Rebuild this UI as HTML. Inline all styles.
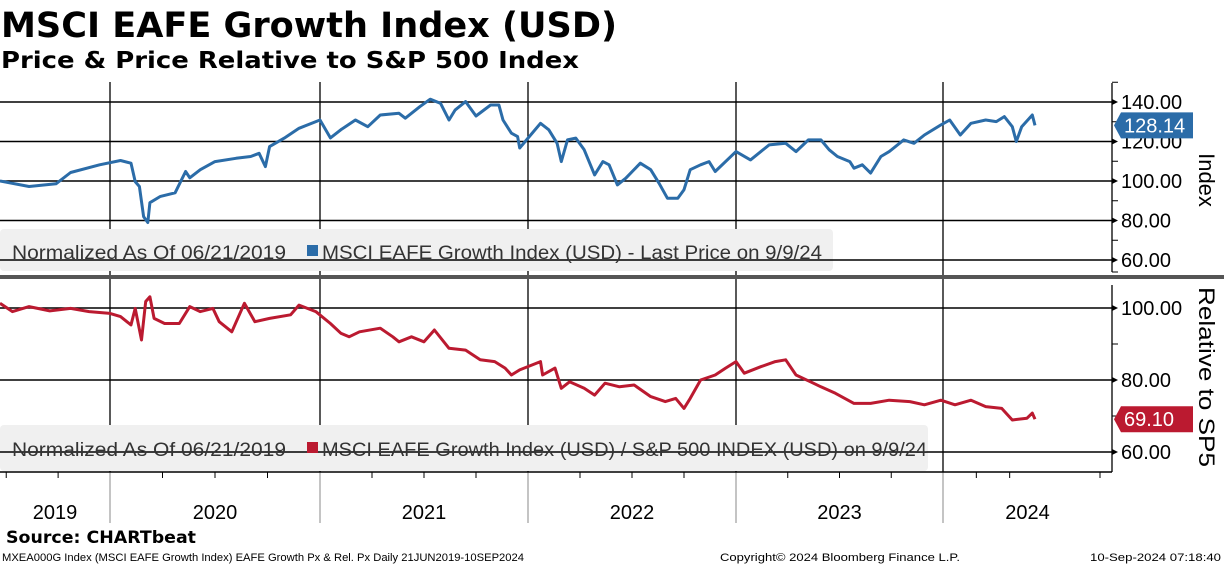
<!DOCTYPE html>
<html><head><meta charset="utf-8"><style>
html,body{margin:0;padding:0;background:#fff;}
svg{display:block;font-family:"DejaVu Sans","Liberation Sans",sans-serif;}
</style></head><body>
<svg id="chart" width="1224" height="566" viewBox="0 0 1224 566" xmlns="http://www.w3.org/2000/svg">
<text x="1" y="37" font-size="35" font-weight="bold" textLength="616" lengthAdjust="spacingAndGlyphs">MSCI EAFE Growth Index (USD)</text>
<text x="1" y="68" font-size="23" font-weight="bold" textLength="578" lengthAdjust="spacingAndGlyphs">Price &amp; Price Relative to S&amp;P 500 Index</text>
<g id="grid"></g>
<rect x="0" y="229" width="833" height="42" rx="4" fill="#f0f0f0"/>
<rect x="0" y="425" width="928" height="46" rx="4" fill="#f0f0f0"/>
<g id="hlines"></g>
<g id="series"></g>
<text x="12" y="259" font-size="19" fill="#333" font-family="Liberation Sans, sans-serif" textLength="274" lengthAdjust="spacingAndGlyphs">Normalized As Of 06/21/2019</text>
<rect x="307" y="245" width="11" height="11" fill="#2b6ca8"/>
<text x="322" y="259" font-size="19" fill="#333" font-family="Liberation Sans, sans-serif" textLength="500" lengthAdjust="spacingAndGlyphs">MSCI EAFE Growth Index (USD) - Last Price on 9/9/24</text>
<text x="12" y="456" font-size="19" fill="#333" font-family="Liberation Sans, sans-serif" textLength="274" lengthAdjust="spacingAndGlyphs">Normalized As Of 06/21/2019</text>
<rect x="307" y="442" width="11" height="11" fill="#bb1a30"/>
<text x="322" y="456" font-size="19" fill="#333" font-family="Liberation Sans, sans-serif" textLength="605" lengthAdjust="spacingAndGlyphs">MSCI EAFE Growth Index (USD) / S&amp;P 500 INDEX (USD) on 9/9/24</text>
<rect x="0" y="275" width="1224" height="4" fill="#555"/>
<g id="axes"></g>
<text transform="translate(1199,180) rotate(90)" text-anchor="middle" font-size="22" font-family="Liberation Sans, sans-serif">Index</text>
<text transform="translate(1199,377) rotate(90)" text-anchor="middle" font-size="22" font-family="Liberation Sans, sans-serif" textLength="180" lengthAdjust="spacingAndGlyphs">Relative to SP5</text>
<text x="6" y="543" font-size="17" font-weight="bold" textLength="190" lengthAdjust="spacingAndGlyphs">Source: CHARTbeat</text>
<text x="2" y="561" font-size="11" font-family="Liberation Sans, sans-serif" textLength="522" lengthAdjust="spacingAndGlyphs">MXEA000G Index (MSCI EAFE Growth Index) EAFE Growth Px &amp; Rel. Px  Daily 21JUN2019-10SEP2024</text>
<text x="720" y="561" font-size="11" font-family="Liberation Sans, sans-serif" textLength="240" lengthAdjust="spacingAndGlyphs">Copyright© 2024 Bloomberg Finance L.P.</text>
<text x="1090" y="561" font-size="11" font-family="Liberation Sans, sans-serif" textLength="131" lengthAdjust="spacingAndGlyphs">10-Sep-2024 07:18:40</text>
</svg>
<script>
const priceDates=[2019.47,2019.61,2019.74,2019.81,2019.95,2020.05,2020.10,2020.12,2020.14,2020.16,2020.18,2020.19,2020.24,2020.31,2020.36,2020.38,2020.43,2020.50,2020.60,2020.67,2020.71,2020.74,2020.76,2020.83,2020.90,2021.00,2021.05,2021.10,2021.17,2021.23,2021.29,2021.38,2021.41,2021.48,2021.53,2021.58,2021.62,2021.65,2021.70,2021.75,2021.82,2021.86,2021.88,2021.92,2021.95,2021.96,2022.06,2022.10,2022.14,2022.16,2022.19,2022.23,2022.27,2022.32,2022.36,2022.39,2022.43,2022.47,2022.54,2022.59,2022.63,2022.67,2022.72,2022.75,2022.78,2022.83,2022.87,2022.90,2023.00,2023.07,2023.16,2023.24,2023.29,2023.35,2023.41,2023.45,2023.49,2023.55,2023.57,2023.61,2023.65,2023.70,2023.74,2023.81,2023.86,2023.91,2023.99,2024.05,2024.13,2024.21,2024.32,2024.40,2024.46,2024.52,2024.55,2024.59,2024.67,2024.69];
const priceValues=[100,97.2,98.6,104.3,108.2,110.4,109,99.7,97.2,82,79,89,92.2,94,104.8,101.6,105.7,109.8,111.5,112.4,114,107.3,117.4,121.7,126.7,130.9,121.8,125.9,130.9,127.5,133.4,134.3,131.8,137.6,141.4,139.3,130.9,136,140.2,132.9,138.5,138.5,130.9,124.2,122.5,116.7,129.2,125.9,119.1,109.8,120.8,121.7,115.8,103.1,109.8,108.2,98,101.4,109,105.7,98.9,91.3,91.3,95.6,105.7,108.2,109.8,104.8,114.9,110.7,118.3,119.1,114.9,120.8,120.8,115.8,112.4,109.8,106.5,108.2,104,112.4,114.9,120.8,119.1,123.3,128.4,130.9,123.3,129.2,130.9,130.1,132.6,127.5,120,127.5,133.4,128.14];
const relDates=[2019.47,2019.53,2019.61,2019.71,2019.81,2019.90,2020.00,2020.05,2020.10,2020.12,2020.15,2020.17,2020.19,2020.21,2020.26,2020.33,2020.38,2020.43,2020.49,2020.52,2020.58,2020.64,2020.69,2020.76,2020.86,2020.90,2020.98,2021.05,2021.10,2021.14,2021.19,2021.29,2021.35,2021.38,2021.44,2021.50,2021.55,2021.62,2021.70,2021.77,2021.84,2021.89,2021.92,2021.96,2022.06,2022.07,2022.13,2022.16,2022.20,2022.27,2022.32,2022.37,2022.44,2022.51,2022.59,2022.66,2022.71,2022.75,2022.78,2022.83,2022.90,2022.95,2023.00,2023.04,2023.12,2023.19,2023.24,2023.29,2023.36,2023.41,2023.48,2023.57,2023.65,2023.74,2023.84,2023.91,2023.99,2024.09,2024.21,2024.32,2024.44,2024.52,2024.63,2024.67,2024.69];
const relValues=[101.3,99,100.4,99.2,99.9,99,98.5,97.6,95.3,99.9,91.1,101.8,103.1,97.1,95.7,95.7,100.4,99,99.9,96.2,93.4,101.3,96.2,97.1,98.1,100.8,99,95.7,93,92,93.4,94.4,92,90.6,92,90.6,93.9,88.8,88.3,85.6,85.1,83.3,81.4,82.8,85.1,81.4,83.3,77.7,79.5,77.7,75.8,79.1,78.1,78.6,75.4,74,74.9,72.1,74.9,80,81.4,83.3,85.1,81.9,83.7,85.1,85.6,81.4,79.5,78.1,76.3,73.5,73.5,74.4,74,73.1,74.4,73.1,74.4,72.6,72.1,68.9,69.4,70.8,69.1];
const yearLabels=["2019","2020","2021","2022","2023","2024"];
const topTicks=[140,120,100,80,60];
const bottomTicks=[100,80,60];
const lastPrice="128.14", lastRel="69.10";

const NS="http://www.w3.org/2000/svg";
const knotsT=[2019.47,2020,2021,2022,2023,2024,2024.69];
const knotsX=[0,110,320,528,736,943,1035];
function xScale(t){for(let i=0;i<knotsT.length-1;i++){if(t<=knotsT[i+1]||i===knotsT.length-2){return knotsX[i]+(t-knotsT[i])/(knotsT[i+1]-knotsT[i])*(knotsX[i+1]-knotsX[i]);}}}
function yTop(v){return 102+(140-v)*(260-102)/80;}
function yBot(v){return 308+(100-v)*(452-308)/40;}
function mk(tag,attrs,parent){const e=document.createElementNS(NS,tag);for(const k in attrs)e.setAttribute(k,attrs[k]);parent.appendChild(e);return e;}
const grid=document.getElementById('grid'),hl=document.getElementById('hlines'),ser=document.getElementById('series'),axes=document.getElementById('axes');
// year separators
for(let i=1;i<yearLabels.length;i++){const x=xScale(2019+i);
 const l1=mk('line',{x1:x,y1:82,x2:x,y2:472,stroke:'#000','stroke-width':1.3},grid);
 
 
 const l2=mk('line',{x1:x,y1:472,x2:x,y2:523,stroke:'#888','stroke-width':1},grid);
 
 }
// year labels
yearLabels.forEach((y,i)=>{const a=Math.max(2019.47,2019+i),b=Math.min(2024.69+0.31*0.3,2020+i);const x0=xScale(a),x1=i===5?1112:xScale(Math.min(b,2024.69));
 const t=mk('text',{x:(x0+x1)/2,y:519,'text-anchor':'middle','font-size':20,'font-family':'Liberation Sans, sans-serif'},axes);t.textContent=y;
 
 });
// quarter ticks
for(let q=2019.5;q<2024.8;q+=0.25){if(Math.abs(q-Math.round(q))<0.01)continue;const x=q>2024.69?1100:xScale(q);
 const tk=mk('line',{x1:x,y1:472,x2:x,y2:478,stroke:'#000'},axes);
 
 }
mk('line',{x1:0,y1:472,x2:1112,y2:472,stroke:'#000','stroke-width':1.5},axes);
// horizontal gridlines + tick labels
function yAxis(ticks,ys,y0,y1){mk('line',{x1:1112,y1:y0,x2:1112,y2:y1,stroke:'#000','stroke-width':1.3},axes);
 ticks.forEach((v,i)=>{const y=ys(v);
  const g=mk('line',{x1:0,y1:y,x2:1112,y2:y,stroke:'#000','stroke-width':1.5},hl);
  
  
  mk('path',{d:`M1112 ${y-3}L1118 ${y}L1112 ${y+3}Z`,fill:'#000'},axes);
  const t=mk('text',{x:1121,y:y+7,'font-size':20,'font-family':'Liberation Sans, sans-serif'},axes);t.textContent=v.toFixed(2);
  
  
  if(i<ticks.length-1){const m=ys(v-(ticks[0]-ticks[1])/2);mk('line',{x1:1112,y1:m,x2:1118,y2:m,stroke:'#000'},axes);}
 });}
yAxis(topTicks,yTop,83,272);
mk('line',{x1:1112,y1:yTop(150),x2:1118,y2:yTop(150),stroke:'#000'},axes);
yAxis(bottomTicks,yBot,285,472);
mk('line',{x1:1112,y1:yBot(110),x2:1118,y2:yBot(110),stroke:'#000'},axes);
// series
function line(dates,vals,ys,color,name){const d=dates.map((t,i)=>(i?'L':'M')+xScale(t).toFixed(1)+' '+ys(vals[i]).toFixed(1)).join('');
 const p=mk('path',{d:d,fill:'none',stroke:color,'stroke-width':3,'stroke-linejoin':'round'},ser);
 
 }
line(priceDates,priceValues,yTop,'#2b6ca8','price-line');
line(relDates,relValues,yBot,'#bb1a30','relative-line');
// value tags
function tag(v,label,ys,color,name){const y=ys(v);
 const g=mk('g',{},axes);
 
 
 mk('path',{d:`M1114 ${y}L1121 ${y-13}L1193 ${y-13}L1193 ${y+13}L1121 ${y+13}Z`,fill:color},g);
 const t=mk('text',{x:1124,y:y+7,'font-size':20,fill:'#fff','font-family':'Liberation Sans, sans-serif'},g);t.textContent=label;}
tag(priceValues[priceValues.length-1],lastPrice,yTop,'#2b6ca8','last-price-tag');
tag(relValues[relValues.length-1],lastRel,yBot,'#bb1a30','last-relative-tag');
</script>
</body></html>
